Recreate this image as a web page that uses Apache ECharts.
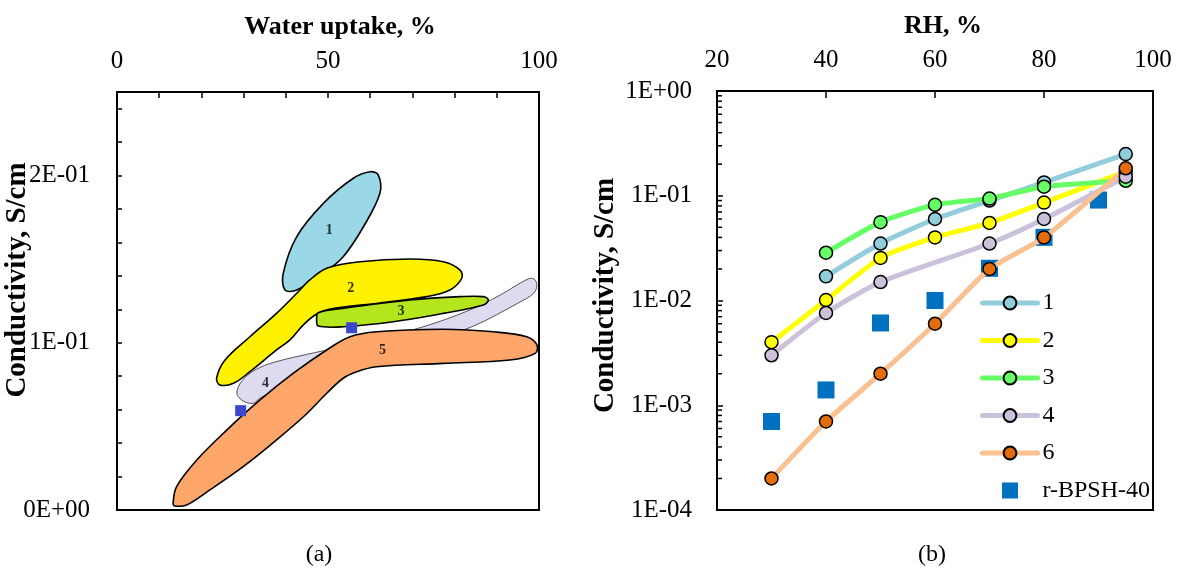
<!DOCTYPE html>
<html>
<head>
<meta charset="utf-8">
<script src="https://cdn.jsdelivr.net/npm/echarts@6/dist/echarts.min.js"></script>
<style>
  html, body { margin: 0; padding: 0; background: #fff; }
  #chart { width: 1178px; height: 576px; }
</style>
</head>
<body>
<div id="chart"></div>
<script>
// ---------- (a) conductivity regions vs water uptake ----------
// outlines as [water uptake %, conductivity S/cm]
const region1 = [[61.9,0.2004],[62.3,0.1894],[58.4,0.1694],[53.6,0.1515],[48.9,0.1416],[42.6,0.1316],
  [39.8,0.1316],[39.4,0.1416],[42.6,0.1635],[48.9,0.1834],[56.0,0.1984],[60.0,0.2023]];
const region2 = [[45.7,0.1376],[49.7,0.1446],[57.6,0.1485],[69.4,0.1501],[77.3,0.1485],[81.3,0.1435],
  [81.7,0.1386],[78.9,0.1316],[73.4,0.1276],[62.3,0.1238],[50.5,0.1202],[47.3,0.1172],[44.1,0.1106],
  [41.0,0.1017],[37.8,0.0957],[31.5,0.0827],[27.6,0.0758],[24.4,0.0748],[23.6,0.0788],[25.6,0.0897],
  [31.5,0.1036],[37.8,0.1176],[42.6,0.1296]];
const region3 = [[47.7,0.1180],[53.6,0.1206],[69.4,0.1256],[81.3,0.1276],[86.8,0.1276],[88.0,0.1256],
  [86.8,0.1226],[77.3,0.1176],[65.5,0.1126],[53.6,0.1096],[47.7,0.1100],[47.3,0.1136]];
const region4 = [[28.4,0.0698],[29.6,0.0772],[32.7,0.0837],[37.4,0.0885],[49.7,0.0957],[62.3,0.1029],
  [72.6,0.1096],[83.6,0.1196],[90.8,0.1286],[97.4,0.1382],[98.8,0.1382],[99.5,0.1346],[98.8,0.1298],
  [95.5,0.1244],[84.1,0.1096],[74.2,0.1017],[48.1,0.0837],[33.9,0.0670],[32.3,0.0638],[29.9,0.0652]];
const region5 = [[13.3,0.0040],[14.1,0.0139],[18.9,0.0299],[26.0,0.0478],[33.9,0.0658],[41.8,0.0818],
  [49.7,0.0957],[55.2,0.1036],[61.5,0.1066],[77.3,0.1081],[89.2,0.1066],[97.1,0.1036],[99.5,0.0987],
  [99.1,0.0937],[93.1,0.0897],[77.3,0.0877],[61.5,0.0857],[56.8,0.0827],[53.6,0.0788],[49.7,0.0698],
  [44.5,0.0565],[37.8,0.0419],[29.9,0.0259],[22.0,0.0120],[16.5,0.0030],[13.7,0.0024]];
const regionNames = ['1', '2', '3', '4', '5'];
const regionNamePos = [[50.3,0.167],[55.4,0.1326],[67.3,0.119],[35.2,0.0758],[62.9,0.0957]];
const refPointsA = [[29.3,0.0594],[55.6,0.109]];
const xLabelsA = [0, 50, 100];
const yLabelsA = [0, 0.1, 0.2];

// ---------- (b) conductivity vs RH ----------
const rh = [30, 40, 50, 60, 70, 80, 95];
const s1 = [null, 0.017, 0.035, 0.060, 0.090, 0.134, 0.25];
const s2 = [0.0040, 0.0101, 0.0255, 0.040, 0.055, 0.086, 0.17];
const s3 = [null, 0.0286, 0.056, 0.082, 0.094, 0.122, 0.139];
const s4 = [0.0030, 0.0076, 0.015, null, 0.035, 0.060, 0.152];
const s6 = [0.0002, 0.0007, 0.0020, 0.0060, 0.020, 0.040, 0.183];
const rhBPSH = [30, 40, 50, 60, 70, 80, 90];
const bpsh = [0.0007, 0.0014, 0.0061, 0.0100, 0.0203, 0.0401, 0.091];
const xLabelsB = [20, 40, 60, 80, 100];
const decadesB = [1e-4, 1e-3, 1e-2, 1e-1, 1];

const FONT = '"Liberation Serif", "Times New Roman", serif';

function sci(v) {
  if (Math.abs(v) < 1e-12) return '0E+00';
  const e = Math.floor(Math.log10(v) + 1e-9);
  const m = Math.round(v / Math.pow(10, e));
  const ae = Math.abs(e);
  return m + 'E' + (e < 0 ? '-' : '+') + (ae < 10 ? '0' : '') + ae;
}
function near(v, list, tol) {
  return list.some(t => Math.abs(v - t) <= tol);
}

// minor ticks of the log axis: 2..9 inside each decade
const logMinor = [];
for (let d = 0; d < decadesB.length - 1; d++) {
  for (let k = 2; k <= 9; k++) logMinor.push(decadesB[d] * k);
}

function regionSeries(name, pts, fill, stroke, lw) {
  return {
    type: 'custom', name: name, xAxisIndex: 0, yAxisIndex: 0, silent: true,
    data: pts, encode: { x: 0, y: 1 },
    renderItem: function (params, api) {
      if (params.dataIndex !== 0) return null;
      const points = pts.map(p => api.coord(p));
      return {
        type: 'polygon',
        shape: { points: points, smooth: 0.35 },
        style: { fill: fill, stroke: stroke, lineWidth: lw }
      };
    }
  };
}

function lineSeries(name, values, lineColor, markerColor) {
  return {
    type: 'line', name: name, xAxisIndex: 1, yAxisIndex: 1,
    data: rh.map((x, i) => [x, values[i]]),
    connectNulls: true, smooth: 0.2,
    symbol: 'circle', symbolSize: 13, showAllSymbol: true,
    lineStyle: { color: lineColor, width: 5 },
    itemStyle: { color: markerColor, borderColor: '#000', borderWidth: 1.5 },
    emphasis: { disabled: true }
  };
}

const axisLineStyle = { show: true, onZero: false, lineStyle: { color: '#000', width: 2 } };
const tickLabel = { color: '#000', fontFamily: FONT, fontSize: 25 };

const option = {
  animation: false,
  backgroundColor: '#fff',
  grid: [
    { left: 117, top: 92, width: 422, height: 418, show: true, borderColor: '#000', borderWidth: 2,
      backgroundColor: 'transparent', containLabel: false, outerBoundsMode: 'none' },
    { left: 717, top: 91, width: 436, height: 419, show: true, borderColor: '#000', borderWidth: 2,
      backgroundColor: 'transparent', containLabel: false, outerBoundsMode: 'none' }
  ],
  xAxis: [
    {
      gridIndex: 0, type: 'value', position: 'top', min: 0, max: 100, interval: 10,
      name: 'Water uptake, %', nameLocation: 'middle', nameGap: 52, nameMoveOverlap: false,
      nameTextStyle: { color: '#000', fontFamily: FONT, fontSize: 26, fontWeight: 'bold', padding: [0, 0, 0, 24] },
      axisLine: axisLineStyle,
      axisTick: { show: true, inside: true, length: 6, lineStyle: { color: '#000', width: 1.5 } },
      axisLabel: Object.assign({ margin: 18, formatter: v => near(v, xLabelsA, 1e-6) ? String(v) : '' }, tickLabel),
      splitLine: { show: false }
    },
    {
      gridIndex: 1, type: 'value', position: 'top', min: 20, max: 100, interval: 20,
      name: 'RH, %', nameLocation: 'middle', nameGap: 52, nameMoveOverlap: false,
      nameTextStyle: { color: '#000', fontFamily: FONT, fontSize: 26, fontWeight: 'bold', padding: [0, 0, 0, 16] },
      axisLine: axisLineStyle,
      axisTick: { show: true, inside: true, length: 7, lineStyle: { color: '#000', width: 1.5 } },
      axisLabel: Object.assign({ margin: 18, formatter: v => near(v, xLabelsB, 1e-6) ? String(v) : '' }, tickLabel),
      splitLine: { show: false }
    }
  ],
  yAxis: [
    {
      gridIndex: 0, type: 'value', min: 0, max: 0.25, interval: 0.02,
      name: 'Conductivity, S/cm', nameLocation: 'middle', nameGap: 85, nameMoveOverlap: false,
      nameTextStyle: { color: '#000', fontFamily: FONT, fontSize: 29, fontWeight: 'bold', padding: [0, 0, 0, 42] },
      axisLine: axisLineStyle,
      axisTick: { show: true, inside: true, length: 5, lineStyle: { color: '#000', width: 1.5 } },
      axisLabel: Object.assign({ margin: 27, formatter: v => near(v, yLabelsA, 1e-9) ? sci(v) : '' }, tickLabel),
      splitLine: { show: false }
    },
    {
      gridIndex: 1, type: 'log', logBase: 10, min: 1e-4, max: 1,
      name: 'Conductivity, S/cm', nameLocation: 'middle', nameGap: 97, nameMoveOverlap: false,
      nameTextStyle: { color: '#000', fontFamily: FONT, fontSize: 29, fontWeight: 'bold', padding: [0, 0, 0, 10] },
      axisLine: axisLineStyle,
      axisTick: { show: true, inside: true, length: 6, lineStyle: { color: '#000', width: 1.5 } },
      axisLabel: Object.assign({ margin: 25, formatter: v => sci(v) }, tickLabel),
      splitLine: { show: false }
    }
  ],
  legend: {
    orient: 'vertical', left: 975, top: 286,
    itemWidth: 55, itemHeight: 16, itemGap: 13.5,
    symbolKeepAspect: true,
    data: ['1', '2', '3', '4', '6', { name: 'r-BPSH-40', icon: 'path://M0,0L10,0L10,10L0,10Z' }],
    lineStyle: { width: 5, cap: 'round' },
    textStyle: { color: '#000', fontFamily: FONT, fontSize: 24, lineHeight: 24 },
    selectedMode: false
  },
  graphic: [
    { type: 'text', x: 319, y: 555, style: { text: '(a)', font: '24px ' + FONT, fill: '#000', align: 'center', verticalAlign: 'middle' } },
    { type: 'text', x: 932, y: 555, style: { text: '(b)', font: '24px ' + FONT, fill: '#000', align: 'center', verticalAlign: 'middle' } }
  ],
  series: [
    regionSeries('region4', region4, '#DEDAF0', '#555', 1),
    regionSeries('region1', region1, '#9AD8E7', '#000', 1.6),
    regionSeries('region2', region2, '#FFF200', '#000', 1.6),
    regionSeries('region3', region3, '#B5E61D', '#000', 1.6),
    regionSeries('region5', region5, '#FFA76B', '#000', 1.6),
    {
      type: 'scatter', name: 'refA', xAxisIndex: 0, yAxisIndex: 0, silent: true,
      data: refPointsA, symbol: 'rect', symbolSize: 11,
      itemStyle: { color: '#3B48CC', opacity: 1 }
    },
    {
      type: 'scatter', name: 'regionNames', xAxisIndex: 0, yAxisIndex: 0, silent: true,
      data: regionNamePos.map((p, i) => ({ name: regionNames[i], value: p })),
      symbolSize: 0,
      label: { show: true, position: 'inside', formatter: '{b}', color: '#000',
        fontFamily: FONT, fontSize: 14, fontWeight: 'bold' }
    },
    {
      type: 'custom', name: 'logMinorTicks', xAxisIndex: 1, yAxisIndex: 1, silent: true,
      data: logMinor.map(v => [20, v]), encode: { x: 0, y: 1 },
      renderItem: function (params, api) {
        const p = api.coord([api.value(0), api.value(1)]);
        return { type: 'line', shape: { x1: p[0], y1: p[1], x2: p[0] + 5, y2: p[1] },
          style: { stroke: '#000', lineWidth: 1.5 } };
      }
    },
    lineSeries('1', s1, '#92CDDC', '#92CDDC'),
    lineSeries('2', s2, '#FFFF00', '#FFFF00'),
    lineSeries('3', s3, '#66FF66', '#66FF66'),
    lineSeries('4', s4, '#CCC1DA', '#CCC1DA'),
    lineSeries('6', s6, '#FAC090', '#E46C0A'),
    {
      type: 'scatter', name: 'r-BPSH-40', xAxisIndex: 1, yAxisIndex: 1,
      data: rhBPSH.map((x, i) => [x, bpsh[i]]),
      symbol: 'rect', symbolSize: 17,
      itemStyle: { color: '#0070C0', opacity: 1 },
      emphasis: { disabled: true }
    }
  ]
};

const chart = echarts.init(document.getElementById('chart'), null, { renderer: 'canvas' });
chart.setOption(option);
</script>
</body>
</html>
